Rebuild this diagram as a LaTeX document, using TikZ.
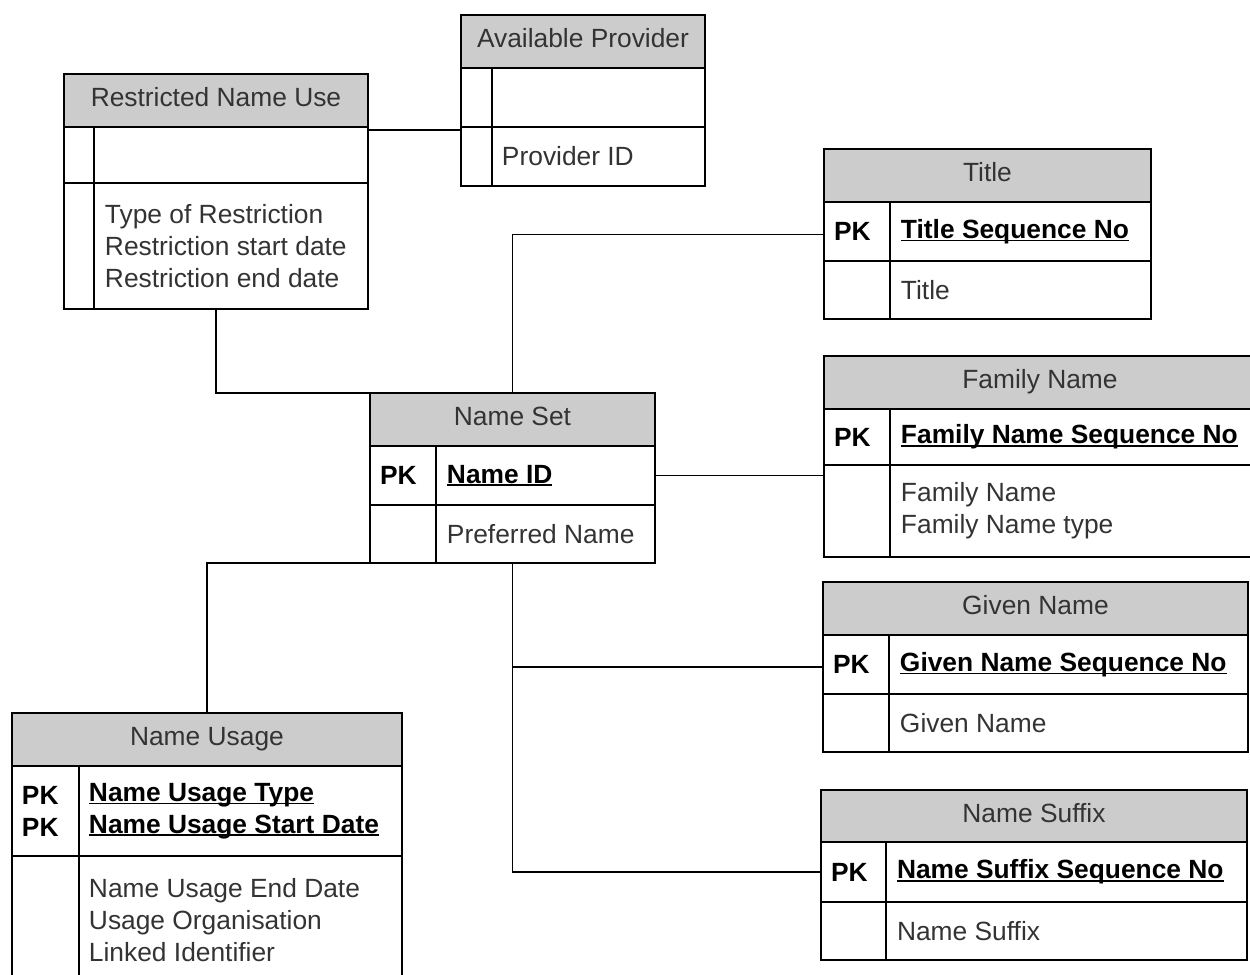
\documentclass[tikz,border=0pt]{standalone}
\usepackage{fontspec}
\setmainfont{Liberation Sans}
\usepackage{tikz}
\usetikzlibrary{positioning,calc}
\definecolor{hdrgray}{RGB}{204,204,204}
\definecolor{txtgray}{RGB}{51,51,51}
\newcommand{\keyul}[1]{\leavevmode\setbox0=\hbox{#1}\rlap{\rule[-1.6pt]{\wd0}{0.9pt}}\box0}

\begin{document}
\begin{tikzpicture}[x=0.02cm, y=-0.02cm, line width=1.1pt,
    every node/.style={font=\fontsize{15pt}{18.2pt}\selectfont, inner sep=0pt, outer sep=0pt},
    hdr/.style={draw, fill=hdrgray, text=txtgray, anchor=north west, text height=0.72em, text depth=0pt},
    cell/.style={draw, anchor=north west},
    pk/.style={anchor=west, align=left, font=\fontsize{15pt}{18.2pt}\selectfont\bfseries},
    keyf/.style={anchor=west, align=left, font=\fontsize{15pt}{18.2pt}\selectfont\bfseries},
    attr/.style={anchor=west, align=left, text=txtgray}]
   \useasboundingbox (0,0) rectangle (1250,974);
   \clip (0,0) rectangle (1250,974);

   % Available Provider
   \node[hdr, minimum width=4.88cm, minimum height=1.06cm] (ap) at (461,15) {Available Provider};
   \node[cell, minimum width=4.88cm, minimum height=1.18cm] (apk) at (ap.south west) {};
   \node[cell, minimum width=4.88cm, minimum height=1.18cm] (apv) at (apk.south west) {};
   \draw ([xshift=0.62cm]apk.north west) -- ([xshift=0.62cm]apv.south west);
   \node[attr] (apv1) at ([xshift=0.82cm]apv.west) {Provider ID};

   % Restricted Name Use
   \node[hdr, minimum width=6.08cm, minimum height=1.06cm] (rnu) at (64,74) {Restricted Name Use};
   \node[cell, minimum width=6.08cm, minimum height=1.12cm] (rnuk) at (rnu.south west) {};
   \node[cell, minimum width=6.08cm, minimum height=2.52cm] (rnuv) at (rnuk.south west) {};
   \draw ([xshift=0.6cm]rnuk.north west) -- ([xshift=0.6cm]rnuv.south west);
   \node[attr] (rnuv1) at ([xshift=0.82cm]rnuv.west) {Type of Restriction\\Restriction start date\\Restriction end date};

   % Title
   \node[hdr, minimum width=6.54cm, minimum height=1.06cm] (ti) at (824,149) {Title};
   \node[cell, minimum width=6.54cm, minimum height=1.18cm] (tik) at (ti.south west) {};
   \node[cell, minimum width=6.54cm, minimum height=1.16cm] (tiv) at (tik.south west) {};
   \draw ([xshift=1.32cm]tik.north west) -- ([xshift=1.32cm]tiv.south west);
   \node[pk] (tipk) at ([xshift=0.2cm]tik.west) {PK};
   \node[keyf] (tik1) at ([xshift=1.54cm]tik.west) {\keyul{Title Sequence No}};
   \node[attr] (tiv1) at ([xshift=1.54cm]tiv.west) {Title};

   % Family Name
   \node[hdr, minimum width=8.64cm, minimum height=1.06cm] (fn) at (824,356) {Family Name};
   \node[cell, minimum width=8.64cm, minimum height=1.12cm] (fnk) at (fn.south west) {};
   \node[cell, minimum width=8.64cm, minimum height=1.84cm] (fnv) at (fnk.south west) {};
   \draw ([xshift=1.32cm]fnk.north west) -- ([xshift=1.32cm]fnv.south west);
   \node[pk] (fnpk) at ([xshift=0.2cm]fnk.west) {PK};
   \node[keyf] (fnk1) at ([xshift=1.54cm]fnk.west) {\keyul{Family Name Sequence No}};
   \node[attr] (fnv1) at ([xshift=1.54cm]fnv.west) {Family Name\\Family Name type};

   % Name Set
   \node[hdr, minimum width=5.7cm, minimum height=1.06cm] (ns) at (370,393) {Name Set};
   \node[cell, minimum width=5.7cm, minimum height=1.18cm] (nsk) at (ns.south west) {};
   \node[cell, minimum width=5.7cm, minimum height=1.16cm] (nsv) at (nsk.south west) {};
   \draw ([xshift=1.32cm]nsk.north west) -- ([xshift=1.32cm]nsv.south west);
   \node[pk] (nspk) at ([xshift=0.2cm]nsk.west) {PK};
   \node[keyf] (nsk1) at ([xshift=1.54cm]nsk.west) {\keyul{Name ID}};
   \node[attr] (nsv1) at ([xshift=1.54cm]nsv.west) {Preferred Name};

   % Given Name
   \node[hdr, minimum width=8.5cm, minimum height=1.06cm] (gn) at (823,582) {Given Name};
   \node[cell, minimum width=8.5cm, minimum height=1.18cm] (gnk) at (gn.south west) {};
   \node[cell, minimum width=8.5cm, minimum height=1.16cm] (gnv) at (gnk.south west) {};
   \draw ([xshift=1.32cm]gnk.north west) -- ([xshift=1.32cm]gnv.south west);
   \node[pk] (gnpk) at ([xshift=0.2cm]gnk.west) {PK};
   \node[keyf] (gnk1) at ([xshift=1.54cm]gnk.west) {\keyul{Given Name Sequence No}};
   \node[attr] (gnv1) at ([xshift=1.54cm]gnv.west) {Given Name};

   % Name Suffix
   \node[hdr, minimum width=8.52cm, minimum height=1.04cm] (sx) at (821,790) {Name Suffix};
   \node[cell, minimum width=8.52cm, minimum height=1.2cm] (sxk) at (sx.south west) {};
   \node[cell, minimum width=8.52cm, minimum height=1.16cm] (sxv) at (sxk.south west) {};
   \draw ([xshift=1.3cm]sxk.north west) -- ([xshift=1.3cm]sxv.south west);
   \node[pk] (sxpk) at ([xshift=0.2cm]sxk.west) {PK};
   \node[keyf] (sxk1) at ([xshift=1.52cm]sxk.west) {\keyul{Name Suffix Sequence No}};
   \node[attr] (sxv1) at ([xshift=1.52cm]sxv.west) {Name Suffix};

   % Name Usage
   \node[hdr, minimum width=7.8cm, minimum height=1.06cm] (nu) at (12,713) {Name Usage};
   \node[cell, minimum width=7.8cm, minimum height=1.8cm] (nuk) at (nu.south west) {};
   \node[cell, minimum width=7.8cm, minimum height=2.56cm] (nuv) at (nuk.south west) {};
   \draw ([xshift=1.34cm]nuk.north west) -- ([xshift=1.34cm]nuv.south west);
   \node[pk] (nupk) at ([xshift=0.2cm]nuk.west) {PK\\PK};
   \node[keyf] (nuk1) at ([xshift=1.54cm]nuk.west) {\keyul{Name Usage Type}\\\keyul{Name Usage Start Date}};
   \node[attr] (nuv1) at ([xshift=1.54cm]nuv.west) {Name Usage End Date\\Usage Organisation\\Linked Identifier};

   % relationships
   \draw ([yshift=-0.06cm]rnuk.north east) -- ([yshift=-0.06cm]apv.north west);
   \draw (rnuv.south) |- (ns.north west);
   \draw (ns.north) |- ([yshift=-0.06cm]tik.west);
   \draw (nsk.east) -- (nsk.east -| fnv.west);
   \draw (nsv.south) |- ([yshift=-0.05cm]gnk.west);
   \draw (nsv.south) |- (sxk.west);
   \draw (nsv.south) -| (nu.north);
\end{tikzpicture}
\end{document}
